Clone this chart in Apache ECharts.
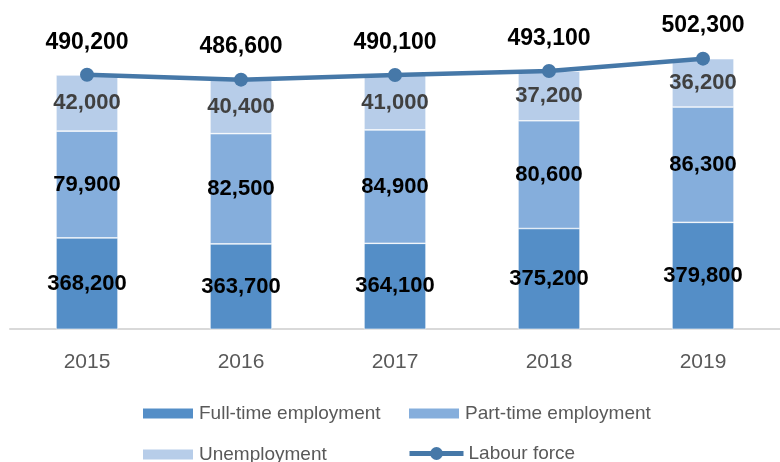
<!DOCTYPE html>
<html>
<head>
<meta charset="utf-8">
<script src="https://cdn.jsdelivr.net/npm/echarts@6/dist/echarts.min.js"></script>
<style>html,body{margin:0;padding:0;background:#fff}#c{width:780px;height:462px}</style>
</head>
<body>
<div id="c"></div>
<script>
var years = ['2015', '2016', '2017', '2018', '2019'];
var fullTime = [368200, 363700, 364100, 375200, 379800];
var partTime = [79900, 82500, 84900, 80600, 86300];
var unemployment = [42000, 40400, 41000, 37200, 36200];
var labourForce = [490200, 486600, 490100, 493100, 502300];

function fmt(p) { return Number(p.value).toLocaleString('en-US'); }
var FONT = '"Liberation Sans", Arial, sans-serif';
var legText = {color: '#595959', fontSize: 19, lineHeight: 18, fontFamily: FONT};

var chart = echarts.init(document.getElementById('c'), null, {renderer: 'canvas'});
chart.setOption({
  animation: false,
  textStyle: {fontFamily: FONT},
  grid: {left: 10, width: 780, top: 35, bottom: 133},
  xAxis: {
    type: 'category',
    data: years,
    axisTick: {show: false},
    axisLine: {lineStyle: {color: '#d9d9d9', width: 2}},
    axisLabel: {color: '#595959', fontSize: 21, margin: 23, fontFamily: FONT}
  },
  yAxis: {type: 'value', show: false, min: 300000, max: 520000, splitLine: {show: false}},
  legend: [
    {
      orient: 'vertical', left: 141, top: 404, height: 120, padding: 0,
      itemWidth: 52, itemHeight: 12, itemGap: 22,
      data: [{name: 'Full-time employment', icon: 'rect'}, {name: 'Unemployment', icon: 'rect'}],
      textStyle: legText
    },
    {
      orient: 'vertical', left: 407, top: 404, height: 60, padding: 0,
      itemWidth: 52, itemHeight: 12,
      data: [{name: 'Part-time employment', icon: 'rect'}],
      textStyle: legText
    },
    {
      orient: 'vertical', left: 407, top: 444, height: 60, padding: 0,
      itemWidth: 54, itemHeight: 16,
      data: [{name: 'Labour force', lineStyle: {width: 5}}],
      textStyle: legText
    }
  ],
  series: [
    {
      name: 'Full-time employment', type: 'bar', stack: 'total', barWidth: 62,
      data: fullTime,
      itemStyle: {color: '#548ec7', borderColor: '#ffffff', borderWidth: 0.6},
      label: {show: true, position: 'inside', formatter: fmt, color: '#000', fontWeight: 'bold', fontSize: 22, fontFamily: FONT}
    },
    {
      name: 'Part-time employment', type: 'bar', stack: 'total', barWidth: 62,
      data: partTime,
      itemStyle: {color: '#85aedc', borderColor: '#ffffff', borderWidth: 0.6},
      label: {show: true, position: 'inside', formatter: fmt, color: '#000', fontWeight: 'bold', fontSize: 22, fontFamily: FONT}
    },
    {
      name: 'Unemployment', type: 'bar', stack: 'total', barWidth: 62,
      data: unemployment,
      itemStyle: {color: '#b7cde9', borderColor: '#ffffff', borderWidth: 0.6},
      label: {show: true, position: 'inside', formatter: fmt, color: '#404040', fontWeight: 'bold', fontSize: 22, fontFamily: FONT}
    },
    {
      name: 'Labour force', type: 'line', data: labourForce,
      symbol: 'circle', symbolSize: 14,
      lineStyle: {color: '#4678a8', width: 4.5},
      itemStyle: {color: '#4678a8'},
      label: {show: true, position: 'top', distance: 14, formatter: fmt, color: '#000', fontWeight: 'bold', fontSize: 23, fontFamily: FONT},
      z: 5
    }
  ]
});
</script>
</body>
</html>
